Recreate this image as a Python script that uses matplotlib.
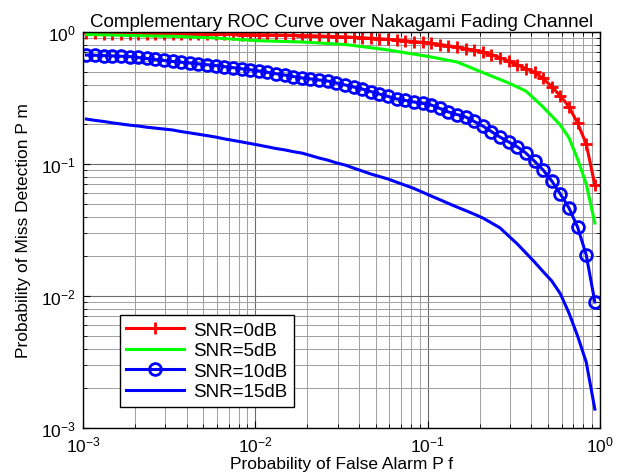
import matplotlib
matplotlib.use("Agg")
import matplotlib.pyplot as plt
from matplotlib.ticker import LogLocator, NullFormatter

plt.rcParams['font.family'] = ['Liberation Sans', 'DejaVu Sans']
plt.rcParams['mathtext.fontset'] = 'custom'
plt.rcParams['mathtext.rm'] = 'Liberation Sans'
plt.rcParams['mathtext.it'] = 'Liberation Sans'

pf = [1.047e-3, 1.175e-3, 1.318e-3, 1.479e-3, 1.660e-3, 1.862e-3, 2.089e-3, 2.344e-3,
      2.630e-3, 2.951e-3, 3.311e-3, 3.715e-3, 4.169e-3, 4.677e-3, 5.248e-3, 5.888e-3,
      6.607e-3, 7.413e-3, 8.318e-3, 9.333e-3, 0.01047, 0.01175, 0.01318, 0.01479,
      0.01660, 0.01862, 0.02089, 0.02344, 0.02630, 0.02951, 0.03311, 0.03715, 0.04169,
      0.04677, 0.05248, 0.05888, 0.06607, 0.07413, 0.08318, 0.09333, 0.1047, 0.1175,
      0.1318, 0.1479, 0.1660, 0.1862, 0.2089, 0.2344, 0.2630, 0.2951, 0.3311, 0.3715,
      0.4169, 0.4677, 0.5248, 0.5888, 0.6607, 0.7413, 0.8318, 0.9333]

pm_0db = [0.975, 0.975, 0.974, 0.974, 0.973, 0.972, 0.971, 0.970, 0.969, 0.968,
          0.967, 0.966, 0.965, 0.964, 0.963, 0.962, 0.960, 0.959, 0.957, 0.955,
          0.953, 0.951, 0.949, 0.946, 0.943, 0.940, 0.936, 0.932, 0.928, 0.923,
          0.918, 0.912, 0.905, 0.897, 0.889, 0.880, 0.870, 0.859, 0.847, 0.834,
          0.820, 0.804, 0.787, 0.768, 0.748, 0.727, 0.705, 0.675, 0.640, 0.600,
          0.565, 0.528, 0.495, 0.445, 0.385, 0.328, 0.272, 0.204, 0.142, 0.0695]

pm_5db = [0.957, 0.954, 0.951, 0.948, 0.944, 0.941, 0.938, 0.935, 0.932, 0.930,
          0.928, 0.923, 0.917, 0.911, 0.906, 0.901, 0.892, 0.884, 0.875, 0.867,
          0.858, 0.855, 0.851, 0.847, 0.844, 0.840, 0.833, 0.826, 0.818, 0.811,
          0.804, 0.790, 0.775, 0.760, 0.746, 0.731, 0.713, 0.696, 0.680, 0.663,
          0.647, 0.628, 0.610, 0.593, 0.558, 0.524, 0.493, 0.464, 0.437, 0.411,
          0.383, 0.357, 0.311, 0.270, 0.231, 0.197, 0.158, 0.109, 0.0707, 0.0357]

pm_10db = [0.669, 0.666, 0.662, 0.659, 0.655, 0.652, 0.641, 0.630, 0.619, 0.609,
           0.598, 0.590, 0.582, 0.573, 0.565, 0.557, 0.547, 0.537, 0.527, 0.517,
           0.507, 0.495, 0.483, 0.472, 0.460, 0.449, 0.441, 0.433, 0.425, 0.411,
           0.397, 0.383, 0.370, 0.354, 0.339, 0.325, 0.311, 0.303, 0.295, 0.288,
           0.280, 0.264, 0.248, 0.237, 0.227, 0.210, 0.194, 0.176, 0.160, 0.147,
           0.135, 0.121, 0.105, 0.0901, 0.0744, 0.0593, 0.0464, 0.0333, 0.0205, 0.00901]

pm_15db = [0.219, 0.214, 0.210, 0.205, 0.201, 0.197, 0.194, 0.190, 0.187, 0.184,
           0.181, 0.176, 0.172, 0.168, 0.164, 0.160, 0.155, 0.151, 0.147, 0.143,
           0.139, 0.135, 0.131, 0.128, 0.124, 0.121, 0.116, 0.111, 0.107, 0.102,
           0.0983, 0.0932, 0.0885, 0.0840, 0.0804, 0.0770, 0.0728, 0.0690, 0.0653, 0.0612,
           0.0572, 0.0537, 0.0503, 0.0472, 0.0444, 0.0417, 0.0390, 0.0358, 0.0328, 0.0285,
           0.0248, 0.0212, 0.0181, 0.0153, 0.0130, 0.0104, 0.00743, 0.00498, 0.00316, 0.00139]

labels = ['SNR=0dB', 'SNR=5dB', 'SNR=10dB', 'SNR=15dB']

fig = plt.figure(figsize=(6.19, 4.77), dpi=100)
ax = fig.add_axes([83/619, 1-429/477, (600-83)/619, (429-33)/477])

ax.set_xscale('log')
ax.set_yscale('log')
ax.set_xlim(1e-3, 1)
ax.set_ylim(1e-3, 1)

ax.grid(True, which='major', color='0.42', linewidth=0.8, linestyle='-')
ax.grid(True, which='minor', color='0.62', linewidth=0.7, linestyle='-')
ax.set_axisbelow(True)

ax.plot(pf, pm_0db, color=(1, 0, 0), lw=2.2, marker='+', ms=9, mew=2, label=labels[0])
ax.plot(pf, pm_5db, color=(0, 1, 0), lw=2.2, label=labels[1])
ax.plot(pf, pm_10db, color=(0, 0, 1), lw=2.2, marker='o', ms=8.5, mfc='none', mew=2, label=labels[2])
ax.plot(pf, pm_15db, color=(0, 0, 1), lw=2.2, label=labels[3])

ax.xaxis.set_major_locator(LogLocator(base=10, numticks=10))
ax.yaxis.set_major_locator(LogLocator(base=10, numticks=10))
ax.xaxis.set_minor_locator(LogLocator(base=10, subs=range(2, 10), numticks=20))
ax.yaxis.set_minor_locator(LogLocator(base=10, subs=range(2, 10), numticks=20))
ax.xaxis.set_minor_formatter(NullFormatter())
ax.yaxis.set_minor_formatter(NullFormatter())
ax.tick_params(which='both', direction='in', top=True, right=True, labelsize=12.5)
ax.tick_params(which='major', length=5)
ax.tick_params(which='minor', length=3)
ax.tick_params(axis='x', pad=5)
ax.tick_params(axis='y', pad=5)
for s in ax.spines.values():
    s.set_linewidth(1.0)

ax.set_title('Complementary ROC Curve over Nakagami Fading Channel', fontsize=13.5, pad=4)
ax.set_xlabel('Probability of False Alarm P f', fontsize=12.5, labelpad=1)
ax.set_ylabel('Probability of Miss Detection P m', fontsize=12.5, labelpad=7)

leg = ax.legend(loc='lower left', bbox_to_anchor=(0.071, 0.053), fontsize=13.5,
                fancybox=False, framealpha=1, edgecolor='black', handlelength=3.1,
                borderpad=0.35, labelspacing=0.18, handletextpad=0.45, borderaxespad=0)
leg.get_frame().set_linewidth(1.0)

fig.savefig('out.png', dpi=100)
